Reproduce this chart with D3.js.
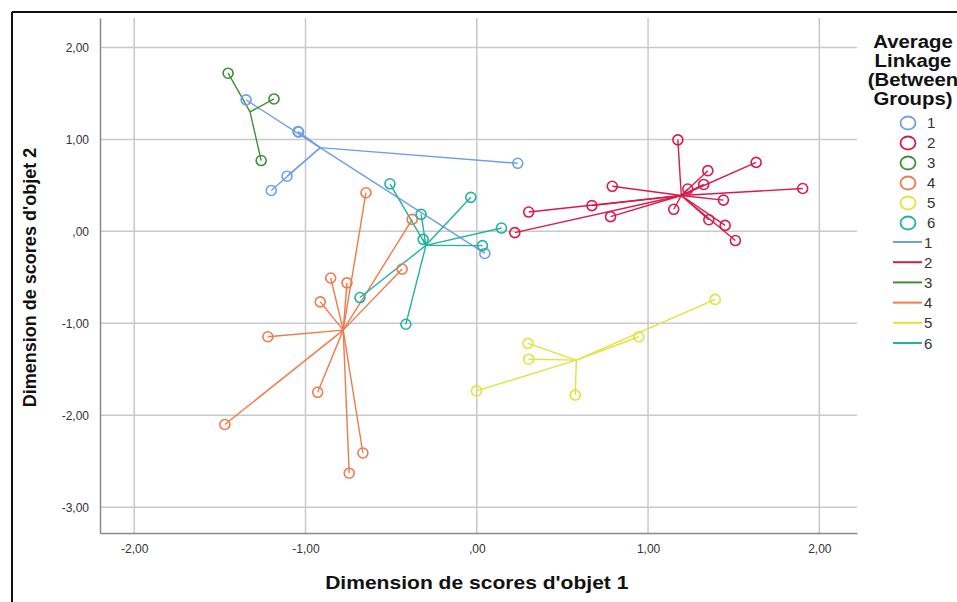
<!DOCTYPE html>
<html>
  <head>
    <script src="https://d3js.org/d3.v7.min.js"></script>
    <style>
      body {margin: 0; background: #fff;}
      svg {font-family: "Liberation Sans", Arial, sans-serif;}
      .grid line {stroke: #c9c9c9; stroke-width: 1.5;}
      .tick-label {font-size: 12px; fill: #333;}
      .axis-title {font-size: 18px; font-weight: bold; fill: #111;}
    </style>
  </head>
  <body>
    <svg id="chart" width="957" height="602"></svg>
  </body>
  <script>
      let width = 957, height = 602;
      let plot = { left: 100, right: 857, top: 18, bottom: 533 };

      // cluster labels and colours
      let clusters = ["1", "2", "3", "4", "5", "6"];
      let colors = ["#6f9fe6", "#d81b4b", "#3f8f35", "#f07a4a", "#e2e23a", "#22b39d"];
      let legendTitle = ["Average", "Linkage", "(Between", "Groups)"];

      let xTicks = [-2, -1, 0, 1, 2];
      let yTicks = [2, 1, 0, -1, -2, -3];

      // centroids
      let centroidX = [-0.915, 1.194, -1.324, -0.78, 0.581, -0.297];
      let centroidY = [0.91, 0.39, 1.30, -1.074, -1.40, -0.152];

      // object scores per cluster [dim1, dim2]
      let cluster1 = [[-1.347, 1.43], [-1.044, 1.085], [-1.04, 1.08], [-1.108, 0.60], [-1.20, 0.445], [0.239, 0.74], [0.047, -0.24]];
      let cluster2 = [[1.174, 0.995], [1.631, 0.75], [1.349, 0.66], [1.325, 0.51], [1.232, 0.46], [1.903, 0.466],
                      [0.791, 0.49], [1.44, 0.34], [1.15, 0.24], [0.672, 0.28], [0.303, 0.21], [0.781, 0.16],
                      [1.355, 0.127], [1.45, 0.065], [1.51, -0.10], [0.222, -0.014]];
      let cluster3 = [[-1.452, 1.72], [-1.184, 1.44], [-1.259, 0.77]];
      let cluster4 = [[-0.647, 0.42], [-0.377, 0.13], [-0.436, -0.41], [-0.853, -0.507], [-0.758, -0.56], [-0.914, -0.767],
                      [-1.22, -1.146], [-1.471, -2.10], [-0.929, -1.75], [-0.665, -2.41], [-0.745, -2.63]];
      let cluster5 = [[1.392, -0.74], [0.946, -1.146], [0.299, -1.218], [0.303, -1.39], [0.575, -1.78], [-0.002, -1.735]];
      let cluster6 = [[-0.507, 0.517], [-0.035, 0.37], [-0.325, 0.185], [0.144, 0.036], [-0.313, -0.087], [0.033, -0.155],
                      [-0.682, -0.72], [-0.414, -1.01]];
      let clusterPoints = [cluster1, cluster2, cluster3, cluster4, cluster5, cluster6];

      let svg = d3.select("#chart");
      let x = d3.scaleLinear().domain([-2.2, 2.22]).range([plot.left, plot.right]);
      let y = d3.scaleLinear().domain([-3.28, 2.32]).range([plot.bottom, plot.top]);

      // outer frame (screenshot border)
      svg.append("line").attr("x1", 12).attr("y1", 12).attr("x2", width).attr("y2", 12)
          .attr("stroke", "#111").attr("stroke-width", 2);
      svg.append("line").attr("x1", 12).attr("y1", 12).attr("x2", 12).attr("y2", height)
          .attr("stroke", "#111").attr("stroke-width", 2);

      // grid
      let grid = svg.append("g").attr("class", "grid");
      grid.selectAll("line.v").data(xTicks).enter().append("line").attr("class", "v")
          .attr("x1", d => x(d)).attr("x2", d => x(d)).attr("y1", plot.top).attr("y2", plot.bottom);
      grid.selectAll("line.h").data(yTicks).enter().append("line").attr("class", "h")
          .attr("x1", plot.left).attr("x2", plot.right).attr("y1", d => y(d)).attr("y2", d => y(d));

      // axes
      let fmt = d => d === 0 ? ",00" : d3.format(".2f")(d).replace(".", ",").replace("−", "-");
      let xAxis = d3.axisBottom(x).tickValues(xTicks).tickSize(0).tickPadding(11).tickFormat(fmt);
      let yAxis = d3.axisLeft(y).tickValues(yTicks).tickSize(0).tickPadding(11).tickFormat(fmt);
      let gx = svg.append("g").attr("transform", `translate(0,${plot.bottom})`).call(xAxis);
      let gy = svg.append("g").attr("transform", `translate(${plot.left},0)`).call(yAxis);
      [gx, gy].forEach(g => {
          g.select(".domain").attr("stroke", "#8a8a8a").attr("stroke-width", 1.5);
          g.selectAll("text").attr("class", "tick-label").attr("font-family", null).attr("font-size", null);
      });

      // the source screenshot is stretched horizontally, so the horizontal titles are widened
      svg.append("text").attr("class", "axis-title").attr("text-anchor", "middle")
          .attr("transform", `translate(${x(0)},589) scale(1.17,1)`).text("Dimension de scores d'objet 1");
      svg.append("text").attr("class", "axis-title").attr("text-anchor", "middle")
          .attr("transform", `translate(36,${(plot.top + plot.bottom) / 2 + 2}) rotate(-90)`)
          .text("Dimension de scores d'objet 2");

      // star lines from centroid to each point
      let marks = svg.append("g");
      clusterPoints.forEach((pts, i) => {
          marks.append("g").selectAll("line").data(pts).enter().append("line")
              .attr("x1", x(centroidX[i])).attr("y1", y(centroidY[i]))
              .attr("x2", d => x(d[0])).attr("y2", d => y(d[1]))
              .attr("stroke", colors[i]).attr("stroke-width", 1.4);
      });
      clusterPoints.forEach((pts, i) => {
          marks.append("g").selectAll("circle").data(pts).enter().append("circle")
              .attr("cx", d => x(d[0])).attr("cy", d => y(d[1])).attr("r", 5)
              .attr("fill", "none").attr("stroke", colors[i]).attr("stroke-width", 1.6);
      });

      // legend
      let legend = svg.append("g");
      legend.selectAll("text.t").data(legendTitle).enter().append("text").attr("class", "t")
          .attr("transform", (d, i) => `translate(913,${48 + i * 19}) scale(1.13,1)`)
          .attr("text-anchor", "middle").attr("font-size", 18).attr("font-weight", "bold")
          .attr("fill", "#111").text(d => d);
      legend.selectAll("ellipse").data(clusters).enter().append("ellipse")
          .attr("cx", 908).attr("cy", (d, i) => 123 + i * 20).attr("rx", 7.5).attr("ry", 6.5)
          .attr("fill", "none").attr("stroke", (d, i) => colors[i]).attr("stroke-width", 1.8);
      legend.selectAll("line").data(clusters).enter().append("line")
          .attr("x1", 893).attr("x2", 922)
          .attr("y1", (d, i) => 242 + i * 20.2).attr("y2", (d, i) => 242 + i * 20.2)
          .attr("stroke", (d, i) => colors[i]).attr("stroke-width", 2);
      legend.selectAll("text.c").data(clusters).enter().append("text").attr("class", "c")
          .attr("x", 927).attr("y", (d, i) => 128 + i * 20).attr("font-size", 15).attr("fill", "#333").text(d => d);
      legend.selectAll("text.l").data(clusters).enter().append("text").attr("class", "l")
          .attr("x", 924).attr("y", (d, i) => 247.5 + i * 20.2).attr("font-size", 15).attr("fill", "#333").text(d => d);
  </script>
</html>
